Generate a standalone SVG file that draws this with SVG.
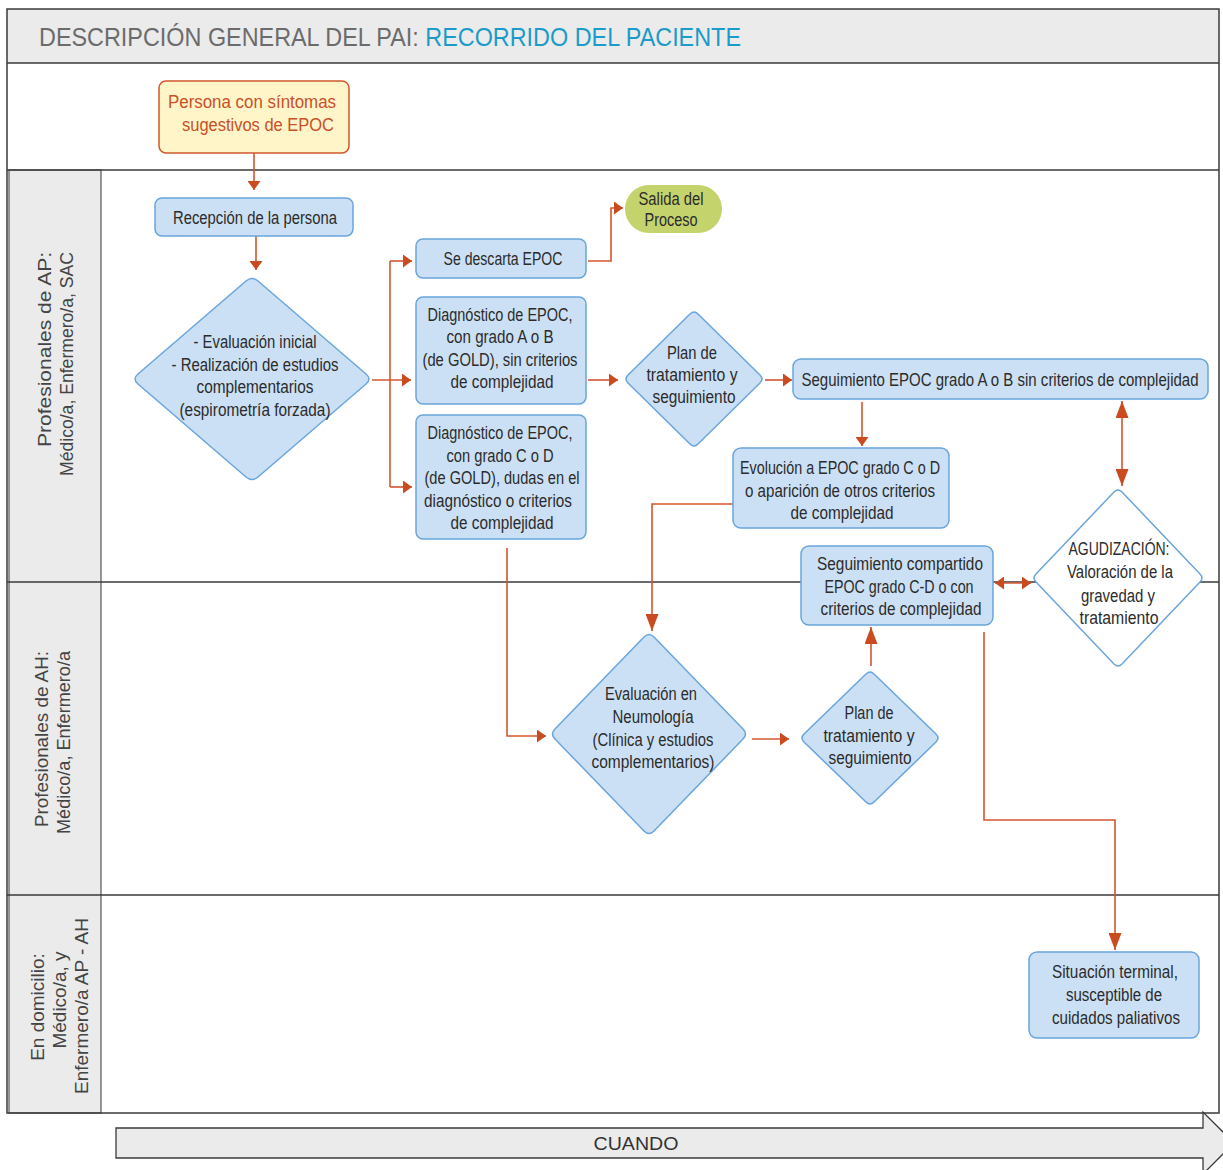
<svg xmlns="http://www.w3.org/2000/svg" width="1223" height="1170" viewBox="0 0 1223 1170">
<style>
.frame{fill:none;stroke:#3a3a3a;stroke-width:1.5}
.lanecol{fill:#ebebeb;stroke:#555;stroke-width:1.2}
.sep{stroke:#3a3a3a;stroke-width:1.3}
.lane{font-family:"Liberation Sans",Arial,sans-serif;font-size:19px;fill:#444}
.t{font-family:"Liberation Sans",Arial,sans-serif;font-size:17.5px;fill:#2b2b2b;text-anchor:middle}
.box{fill:#cbe0f4;stroke:#6aa5dc;stroke-width:1.5}
.wd{fill:#ffffff;stroke:#6aa5dc;stroke-width:1.5}
.c{fill:none;stroke:#d3562e;stroke-width:1.6}
</style>
<defs>
<marker id="as" markerUnits="userSpaceOnUse" markerWidth="9" markerHeight="13" viewBox="0 0 9 13" refX="9" refY="6.5" orient="auto-start-reverse"><path d="M0,0 L9,6.5 L0,13 z" fill="#c94b1f"/></marker>
<marker id="ab" markerUnits="userSpaceOnUse" markerWidth="17" markerHeight="13" viewBox="0 0 17 13" refX="17" refY="6.5" orient="auto-start-reverse"><path d="M0,0 L17,6.5 L0,13 z" fill="#c94b1f"/></marker>
</defs>
<rect x="0" y="0" width="1223" height="1170" fill="#ffffff"/>
<g id="header">
<rect x="7" y="9" width="1212" height="54" fill="#ebebeb"/>
<text x="39" y="46" font-family="'Liberation Sans',Arial,sans-serif" font-size="25" textLength="702" lengthAdjust="spacingAndGlyphs"><tspan fill="#6b6b6b">DESCRIPCIÓN GENERAL DEL PAI: </tspan><tspan fill="#1a9bc9">RECORRIDO DEL PACIENTE</tspan></text>
</g>
<g id="lanes">
<rect x="9" y="170" width="92" height="943" class="lanecol"/>
<line x1="7" y1="63" x2="1219" y2="63" class="sep"/>
<line x1="7" y1="170" x2="1219" y2="170" class="sep"/>
<line x1="7" y1="582" x2="1219" y2="582" class="sep"/>
<line x1="7" y1="895" x2="1219" y2="895" class="sep"/>
<rect x="7" y="9" width="1212" height="1104" class="frame"/>
<text class="lane" text-anchor="end" transform="translate(51,252) rotate(-90)" textLength="195" lengthAdjust="spacingAndGlyphs">Profesionales de AP:</text>
<text class="lane" text-anchor="end" transform="translate(73,252) rotate(-90)" textLength="224" lengthAdjust="spacingAndGlyphs">Médico/a, Enfermero/a, SAC</text>
<text class="lane" text-anchor="end" transform="translate(48,651) rotate(-90)" textLength="176" lengthAdjust="spacingAndGlyphs">Profesionales de AH:</text>
<text class="lane" text-anchor="end" transform="translate(70,651) rotate(-90)" textLength="183" lengthAdjust="spacingAndGlyphs">Médico/a, Enfermero/a</text>
<text class="lane" text-anchor="middle" transform="translate(44,1007) rotate(-90)">En domicilio:</text>
<text class="lane" text-anchor="middle" transform="translate(66,1000) rotate(-90)">Médico/a,  y</text>
<text class="lane" text-anchor="middle" transform="translate(88,1006) rotate(-90)">Enfermero/a AP - AH</text>
</g>
<g id="connectors">
<path class="c" d="M254,153 V190" marker-end="url(#as)"/>
<path class="c" d="M256,236 V270" marker-end="url(#as)"/>
<path class="c" d="M390,261 V487"/>
<path class="c" d="M390,261 H412" marker-end="url(#as)"/>
<path class="c" d="M372,380 H411" marker-end="url(#as)"/>
<path class="c" d="M390,487 H412" marker-end="url(#as)"/>
<path class="c" d="M588,261 H611 V208 H623" marker-end="url(#as)"/>
<path class="c" d="M588,380 H618" marker-end="url(#as)"/>
<path class="c" d="M765,380 H792" marker-end="url(#as)"/>
<path class="c" d="M862,402 V446" marker-end="url(#as)"/>
<path class="c" d="M1122,401 V486" marker-start="url(#ab)" marker-end="url(#ab)"/>
<path class="c" d="M733,504 H652 V631" marker-end="url(#ab)"/>
<path class="c" d="M507,548 V736 H546" marker-end="url(#as)"/>
<path class="c" d="M752,739 H789" marker-end="url(#as)"/>
<path class="c" d="M871,666 V627" marker-end="url(#ab)"/>
<path class="c" d="M995,583 H1031" marker-start="url(#as)" marker-end="url(#as)"/>
<path class="c" d="M984,632 V820 H1115 V950" marker-end="url(#ab)"/>
</g>
<g id="n-start">
<rect x="159" y="81" width="190" height="72" rx="7" fill="#fff5c8" stroke="#d0582c" stroke-width="1.5"/>
<text class="t" style="fill:#c8502a" x="252" y="108" textLength="168" lengthAdjust="spacingAndGlyphs">Persona con síntomas</text>
<text class="t" style="fill:#c8502a" x="258" y="131" textLength="152" lengthAdjust="spacingAndGlyphs">sugestivos de EPOC</text>
</g>
<g id="n-recepcion">
<rect x="155" y="198" width="198" height="38" rx="7" class="box"/>
<text class="t" x="255" y="224" textLength="164" lengthAdjust="spacingAndGlyphs">Recepción de la persona</text>
</g>
<g id="n-evaluacion">
<path class="box" d="M246,281 Q252,276 258,281 L366,374 Q372,379 366,384 L258,477 Q252,482 246,477 L138,384 Q132,379 138,374 Z"/>
<text class="t" x="255" y="348" textLength="123" lengthAdjust="spacingAndGlyphs">- Evaluación inicial</text>
<text class="t" x="255" y="371" textLength="167" lengthAdjust="spacingAndGlyphs">- Realización de estudios</text>
<text class="t" x="255" y="393" textLength="117" lengthAdjust="spacingAndGlyphs">complementarios</text>
<text class="t" x="255" y="416" textLength="151" lengthAdjust="spacingAndGlyphs">(espirometría forzada)</text>
</g>
<g id="n-descarta">
<rect x="416" y="239" width="170" height="39" rx="7" class="box"/>
<text class="t" x="503" y="265" textLength="119" lengthAdjust="spacingAndGlyphs">Se descarta EPOC</text>
</g>
<g id="n-salida">
<rect x="625" y="185" width="97" height="48" rx="24" fill="#c4d36b"/>
<text class="t" x="671" y="205" textLength="65" lengthAdjust="spacingAndGlyphs">Salida del</text>
<text class="t" x="671" y="226" textLength="53" lengthAdjust="spacingAndGlyphs">Proceso</text>
</g>
<g id="n-diagAB">
<rect x="416" y="297" width="170" height="107" rx="7" class="box"/>
<text class="t" x="500" y="321" textLength="145" lengthAdjust="spacingAndGlyphs">Diagnóstico de EPOC,</text>
<text class="t" x="500" y="343" textLength="107" lengthAdjust="spacingAndGlyphs">con grado A o B</text>
<text class="t" x="500" y="366" textLength="155" lengthAdjust="spacingAndGlyphs">(de GOLD), sin criterios</text>
<text class="t" x="502" y="388" textLength="103" lengthAdjust="spacingAndGlyphs">de complejidad</text>
</g>
<g id="n-diagCD">
<rect x="416" y="415" width="170" height="124" rx="7" class="box"/>
<text class="t" x="500" y="439" textLength="145" lengthAdjust="spacingAndGlyphs">Diagnóstico de EPOC,</text>
<text class="t" x="500" y="462" textLength="107" lengthAdjust="spacingAndGlyphs">con grado C o D</text>
<text class="t" x="502" y="484" textLength="155" lengthAdjust="spacingAndGlyphs">(de GOLD), dudas en el</text>
<text class="t" x="498" y="507" textLength="148" lengthAdjust="spacingAndGlyphs">diagnóstico o criterios</text>
<text class="t" x="502" y="529" textLength="103" lengthAdjust="spacingAndGlyphs">de complejidad</text>
</g>
<g id="n-plan1">
<path class="box" d="M690,314 Q694,310 698,314 L760,375 Q764,379 760,383 L698,444 Q694,448 690,444 L628,383 Q624,379 628,375 Z"/>
<text class="t" x="692" y="359" textLength="50" lengthAdjust="spacingAndGlyphs">Plan de</text>
<text class="t" x="692" y="381" textLength="91" lengthAdjust="spacingAndGlyphs">tratamiento y</text>
<text class="t" x="694" y="403" textLength="83" lengthAdjust="spacingAndGlyphs">seguimiento</text>
</g>
<g id="n-segAB">
<rect x="793" y="359" width="415" height="40" rx="8" class="box"/>
<text class="t" x="1000" y="386" textLength="397" lengthAdjust="spacingAndGlyphs">Seguimiento EPOC grado A o B sin criterios de complejidad</text>
</g>
<g id="n-evolucion">
<rect x="733" y="448" width="216" height="80" rx="8" class="box"/>
<text class="t" x="840" y="474" textLength="200" lengthAdjust="spacingAndGlyphs">Evolución a EPOC grado C o D</text>
<text class="t" x="840" y="497" textLength="190" lengthAdjust="spacingAndGlyphs">o aparición de otros criterios</text>
<text class="t" x="842" y="519" textLength="103" lengthAdjust="spacingAndGlyphs">de complejidad</text>
</g>
<g id="n-agudizacion">
<path class="wd" d="M1114,492 Q1118,488 1122,492 L1200,574 Q1204,578 1200,582 L1122,664 Q1118,668 1114,664 L1036,582 Q1032,578 1036,574 Z"/>
<text class="t" x="1119" y="555" textLength="101" lengthAdjust="spacingAndGlyphs">AGUDIZACIÓN:</text>
<text class="t" x="1120" y="578" textLength="106" lengthAdjust="spacingAndGlyphs">Valoración de la</text>
<text class="t" x="1118" y="602" textLength="74" lengthAdjust="spacingAndGlyphs">gravedad y</text>
<text class="t" x="1119" y="624" textLength="79" lengthAdjust="spacingAndGlyphs">tratamiento</text>
</g>
<g id="n-segCD">
<rect x="801" y="546" width="192" height="79" rx="8" class="box"/>
<text class="t" x="900" y="570" textLength="166" lengthAdjust="spacingAndGlyphs">Seguimiento compartido</text>
<text class="t" x="899" y="593" textLength="149" lengthAdjust="spacingAndGlyphs">EPOC grado C-D o con</text>
<text class="t" x="901" y="615" textLength="161" lengthAdjust="spacingAndGlyphs">criterios de complejidad</text>
</g>
<g id="n-neumologia">
<path class="box" d="M644,637 Q649,632 654,637 L743,729 Q748,734 743,739 L654,831 Q649,836 644,831 L555,739 Q550,734 555,729 Z"/>
<text class="t" x="651" y="700" textLength="92" lengthAdjust="spacingAndGlyphs">Evaluación en</text>
<text class="t" x="653" y="723" textLength="81" lengthAdjust="spacingAndGlyphs">Neumología</text>
<text class="t" x="653" y="746" textLength="121" lengthAdjust="spacingAndGlyphs">(Clínica y estudios</text>
<text class="t" x="653" y="768" textLength="123" lengthAdjust="spacingAndGlyphs">complementarios)</text>
</g>
<g id="n-plan2">
<path class="box" d="M866,674 Q870,670 874,674 L936,734 Q940,738 936,742 L874,802 Q870,806 866,802 L804,742 Q800,738 804,734 Z"/>
<text class="t" x="869" y="719" textLength="49" lengthAdjust="spacingAndGlyphs">Plan de</text>
<text class="t" x="869" y="742" textLength="91" lengthAdjust="spacingAndGlyphs">tratamiento y</text>
<text class="t" x="870" y="764" textLength="83" lengthAdjust="spacingAndGlyphs">seguimiento</text>
</g>
<g id="n-terminal">
<rect x="1029" y="952" width="170" height="86" rx="8" class="box"/>
<text class="t" x="1115" y="978" textLength="126" lengthAdjust="spacingAndGlyphs">Situación terminal,</text>
<text class="t" x="1114" y="1001" textLength="96" lengthAdjust="spacingAndGlyphs">susceptible de</text>
<text class="t" x="1116" y="1024" textLength="128" lengthAdjust="spacingAndGlyphs">cuidados paliativos</text>
</g>
<g id="cuando">
<path d="M116,1128 H1203 V1112 L1234,1143 L1203,1174 V1158 H116 Z" fill="#ebebeb" stroke="#3a3a3a" stroke-width="1.3"/>
<text x="636" y="1150" font-family="'Liberation Sans',Arial,sans-serif" font-size="19" fill="#333" text-anchor="middle" textLength="85" lengthAdjust="spacingAndGlyphs">CUANDO</text>
</g>
</svg>
